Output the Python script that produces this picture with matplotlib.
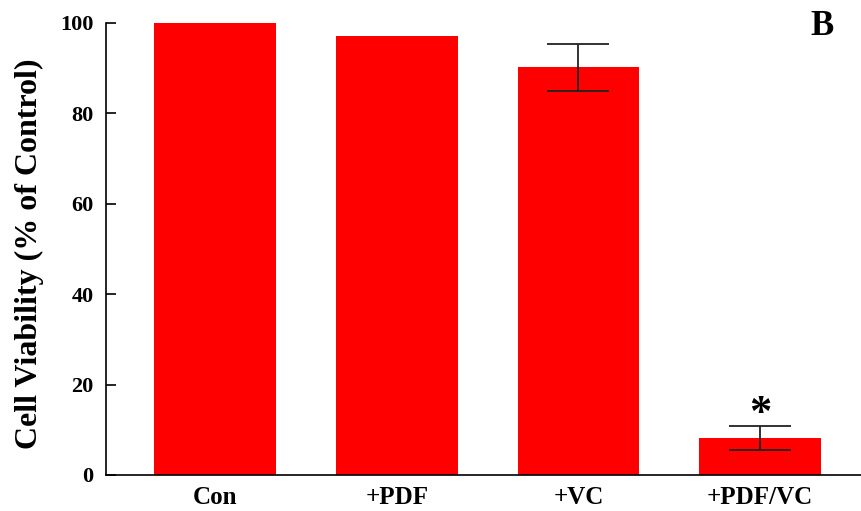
import numpy as np
import matplotlib
matplotlib.use('Agg')
import matplotlib.pyplot as plt

plt.rcParams['font.family'] = ['Liberation Serif', 'DejaVu Serif']
plt.rcParams['font.weight'] = 'bold'

groups = ['Con', '+PDF', '+VC', '+PDF/VC']
viability = [100.0, 97.1, 90.2, 8.2]
sem = [0.0, 0.0, 5.2, 2.7]
signif = ['', '', '', '*']

fig = plt.figure(figsize=(8.61, 5.11), dpi=100)
ax = fig.add_axes([0.1231, 0.0705, 0.8769, 0.8845])

x = np.arange(len(groups))
ax.bar(x, viability, width=0.67, color='#ff0000', zorder=2)
# only draw error bars where there is a spread
for xi, v, e in zip(x, viability, sem):
  if e > 0:
    ax.errorbar(xi, v, yerr=e, fmt='none', ecolor='#222222', elinewidth=1.3,
                capsize=31 * 72 / 100, capthick=1.3, zorder=3)

for xi, v, e, s in zip(x, viability, sem, signif):
  if s:
    ax.text(xi, v + e + 2.6, s, ha='center', va='center', fontsize=32,
            fontweight='bold')

ax.set_xlim(-0.6, 3.555)
ax.set_ylim(0, 100)
ax.set_yticks([0, 20, 40, 60, 80, 100])
ax.set_xticks(x)
ax.set_xticklabels(groups)
ax.tick_params(axis='y', direction='in', length=7, width=1.2, pad=9,
               labelsize=16)
ax.tick_params(axis='x', length=0, pad=8, labelsize=18)
for lab in ax.get_xticklabels() + ax.get_yticklabels():
  lab.set_fontweight('bold')

ax.spines['top'].set_visible(False)
ax.spines['right'].set_visible(False)
ax.spines['left'].set_linewidth(1.2)
ax.spines['bottom'].set_linewidth(1.2)

ax.set_ylabel('Cell Viability (% of Control)', fontsize=23, fontweight='bold')
ax.yaxis.set_label_coords(-0.082, 0.49)

fig.text(0.955, 0.948, 'B', fontsize=25, fontweight='bold', ha='center',
         va='center')

fig.savefig('out.png', dpi=100)
